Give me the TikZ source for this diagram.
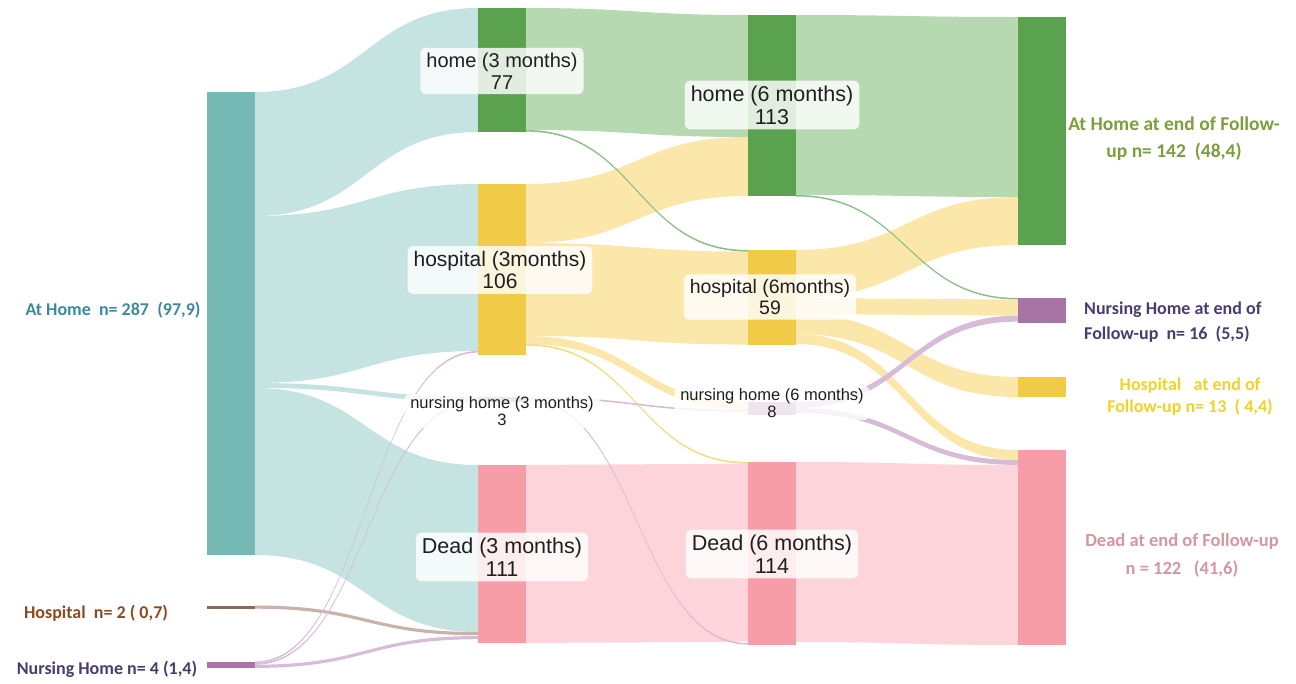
\documentclass[tikz,border=0pt]{standalone}
\usepackage{fontspec}
\setmainfont{Liberation Sans}
\newfontfamily\sidefont{Carlito}
\usetikzlibrary{calc,backgrounds}

\definecolor{cTeal}{HTML}{76B8B3}
\definecolor{cTealL}{HTML}{C5E3E1}
\definecolor{cGreen}{HTML}{5AA24E}
\definecolor{cGreenL}{HTML}{B6D9B1}
\definecolor{cGreenT}{HTML}{8CBF88}
\definecolor{cYel}{HTML}{F1CB48}
\definecolor{cYelL}{HTML}{FBE7A9}
\definecolor{cYelT}{HTML}{F3DC7E}
\definecolor{cPink}{HTML}{F79DA8}
\definecolor{cPinkL}{HTML}{FDD4DA}
\definecolor{cPur}{HTML}{A874A6}
\definecolor{cPurL}{HTML}{D7BCD8}
\definecolor{cBrown}{HTML}{8A6A5C}
\definecolor{cBrownL}{HTML}{C9B2A9}
\definecolor{tHome}{HTML}{3F8A98}
\definecolor{tHosp}{HTML}{8C4A22}
\definecolor{tNH}{HTML}{4B3C6E}
\definecolor{tHomeEnd}{HTML}{7C9E3C}
\definecolor{tHospEnd}{HTML}{EFD22A}
\definecolor{tDeadEnd}{HTML}{D496A0}

% flow band: source node, source offset, target node, target offset, width, colour
\newcommand{\flow}[6]{%
  \fill[#6] let \p1=(#1.north east), \p2=(#3.north west), \n1={0.5*(\x1+\x2)} in
  (\x1,\y1-#2pt) .. controls (\n1,\y1-#2pt) and (\n1,\y2-#4pt) .. (\x2,\y2-#4pt)
  -- (\x2,\y2-#4pt-#5pt) .. controls (\n1,\y2-#4pt-#5pt) and (\n1,\y1-#2pt-#5pt) .. (\x1,\y1-#2pt-#5pt)
  -- cycle;}

\tikzset{
  bar/.style={rectangle, inner sep=0pt, outer sep=0pt, minimum width=48pt, anchor=north west, draw=none},
  lab/.style={fill=white, fill opacity=0.82, text opacity=1, rounded corners=5pt, align=center,
              inner xsep=6pt, inner ysep=5pt, text=black!88, font=\fontsize{20}{22}\selectfont},
  smalllab/.style={lab, font=\fontsize{16.5}{17.5}\selectfont, inner ysep=2pt},
  side/.style={align=center, inner sep=0pt, font=\sidefont\bfseries\fontsize{18}{25}\selectfont},
}

\begin{document}
\begin{tikzpicture}[x=1pt, y=-1pt]
\useasboundingbox (0,0) rectangle (1296,683);

% ---- bars ----
\node[bar, fill=cTeal,  minimum height=463pt] (h0) at (207,92) {};
\node[bar, fill=cBrown, minimum height=3.2pt] (p0) at (207,605.5) {};
\node[bar, fill=cPur,   minimum height=6.4pt] (n0) at (207,661.5) {};

\node[bar, fill=cGreen, minimum height=124pt] (h1) at (478,8) {};
\node[bar, fill=cYel,   minimum height=171pt] (p1) at (478,184) {};
\node[bar, fill=cPur,   minimum height=5pt]   (n1) at (478,397) {};
\node[bar, fill=cPink,  minimum height=178pt] (d1) at (478,465) {};

\node[bar, fill=cGreen, minimum height=181pt] (h2) at (748,15) {};
\node[bar, fill=cYel,   minimum height=95pt]  (p2) at (748,250) {};
\node[bar, fill=cPur,   minimum height=13pt]  (n2) at (748,402) {};
\node[bar, fill=cPink,  minimum height=183pt] (d2) at (748,462) {};

\node[bar, fill=cGreen, minimum height=228pt] (h3) at (1018,17) {};
\node[bar, fill=cPur,   minimum height=25pt]  (n3) at (1018,298) {};
\node[bar, fill=cYel,   minimum height=20pt]  (p3) at (1018,377) {};
\node[bar, fill=cPink,  minimum height=195pt] (d3) at (1018,450) {};

% ---- flows ----
\begin{scope}[on background layer]
  % column 0 -> 1
  \flow{h0}{0}{h1}{0}{124}{cTealL}
  \flow{h0}{124}{p1}{0}{167}{cTealL}
  \flow{h0}{291}{n1}{0}{4.8}{cTealL}
  \flow{h0}{296}{d1}{0}{167}{cTealL}
  \flow{p0}{0}{d1}{167}{3.2}{cBrownL}
  \flow{n0}{0}{p1}{167}{1.6}{cPurL}
  \flow{n0}{1.6}{n1}{3.4}{1.6}{cPurL}
  \flow{n0}{3.2}{d1}{171}{3.2}{cPurL}
  % column 1 -> 2
  \flow{h1}{0}{h2}{0}{122}{cGreenL}
  \flow{p1}{0}{h2}{122}{59}{cYelL}
  \flow{p1}{59}{p2}{1.6}{93}{cYelL}
  \flow{p1}{152}{n2}{0}{8}{cYelL}
  \flow{d1}{0}{d2}{1.6}{178}{cPinkL}
  \flow{h1}{122}{p2}{0}{1.6}{cGreenT}
  \flow{p1}{160}{d2}{0}{1.6}{cYelT}
  \flow{n1}{0}{n2}{8}{1.6}{cPurL}
  \flow{n1}{1.6}{d2}{181}{1.6}{cPurL}
  % column 2 -> 3
  \flow{h2}{0}{h3}{0}{180}{cGreenL}
  \flow{p2}{0}{h3}{180}{48}{cYelL}
  \flow{p2}{48}{n3}{1.6}{16}{cYelL}
  \flow{p2}{64}{p3}{0}{20}{cYelL}
  \flow{p2}{84}{d3}{0}{10}{cYelL}
  \flow{n2}{0}{n3}{17.6}{6}{cPurL}
  \flow{n2}{6}{d3}{10}{5}{cPurL}
  \flow{d2}{0}{d3}{15}{180}{cPinkL}
  \flow{h2}{180}{n3}{0}{1.5}{cGreenT}
\end{scope}

% ---- node labels ----
\node[lab] (lh1) at (502,71) {home (3 months)\\77};
\node[lab, font=\fontsize{21.5}{23}\selectfont] (lh2) at (772,105) {home (6 months)\\113};
\node[lab, font=\fontsize{21}{22.5}\selectfont] (lp1) at (500,270) {hospital (3months)\\106};
\node[lab, font=\fontsize{19.5}{21}\selectfont] (lp2) at (770,297) {hospital (6months)\\59};
\node[smalllab] (ln1) at (502,411) {nursing home (3 months)\\3};
\node[smalllab] (ln2) at (772,403) {nursing home (6 months)\\8};
\node[lab, font=\fontsize{21.5}{23}\selectfont] (ld1) at (502,557) {Dead (3 months)\\111};
\node[lab, font=\fontsize{21.5}{23}\selectfont] (ld2) at (772,554) {Dead (6 months)\\114};

% ---- side labels ----
\node[side, text=tHome] (sh0) at (113,310) {At Home\ \ n= 287\ \ (97,9)};
\node[side, text=tHosp] (sp0) at (96,613) {Hospital\ \ n= 2 ( 0,7)};
\node[side, text=tNH]   (sn0) at (107,669) {Nursing Home n= 4 (1,4)};

\node[side, text=tHomeEnd, font=\sidefont\bfseries\fontsize{19.5}{27}\selectfont] (sh3) at (1174,139) {At Home at end of Follow-\\up n= 142\ \ (48,4)};
\node[side, text=tNH, align=left, anchor=west] (sn3) at (1084,322) {Nursing Home at end of\\Follow-up\ \ n= 16\ \ (5,5)};
\node[side, text=tHospEnd, font=\sidefont\bfseries\fontsize{18}{22}\selectfont] (sp3) at (1190,397) {Hospital\ \ \ at end of\\Follow-up n= 13\ \ ( 4,4)};
\node[side, text=tDeadEnd, font=\sidefont\bfseries\fontsize{18.5}{28}\selectfont] (sd3) at (1182,555) {Dead at end of Follow-up\\n = 122\ \ \ (41,6)};
\end{tikzpicture}
\end{document}
